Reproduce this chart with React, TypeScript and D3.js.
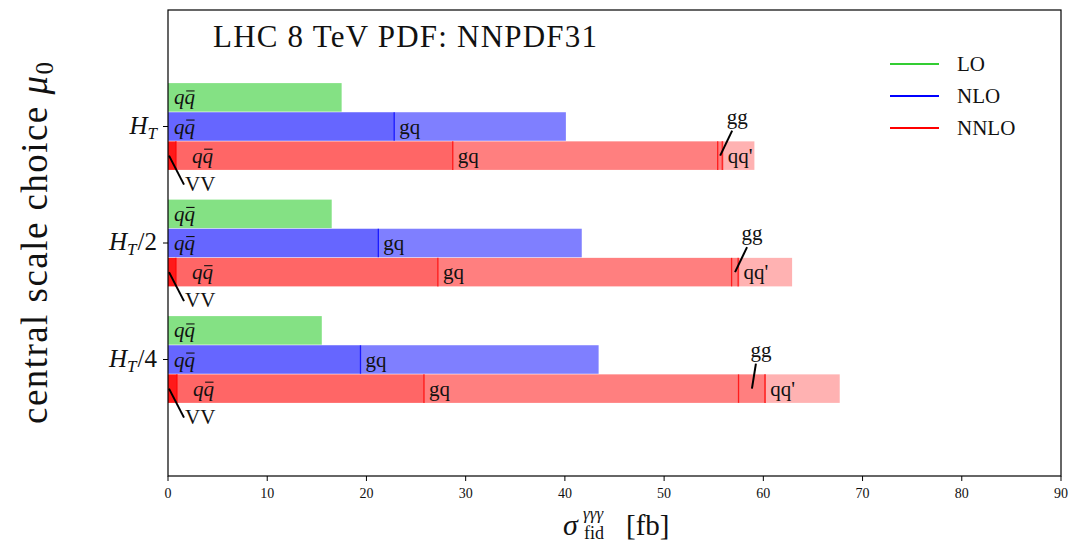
import React from 'react';
import * as d3 from 'd3';

// central scale choices, top to bottom
const scaleChoices = ['H_T', 'H_T/2', 'H_T/4'];
const scalePositions = [2, 1, 0];

// LO: only qqbar channel
const loQqbar = [17.5, 16.5, 15.5];
// NLO channels
const nloQqbar = [22.8, 21.2, 19.4];
const nloGq = [17.3, 20.5, 24.0];
// NNLO channels
const nnloVV = [0.8, 0.8, 0.9];
const nnloQqbar = [27.9, 26.4, 24.9];
const nnloGq = [26.7, 29.6, 31.7];
const nnloGg = [0.5, 0.7, 2.7];
const nnloQqp = [3.2, 5.4, 7.5];

const xTicks = [0, 10, 20, 30, 40, 50, 60, 70, 80, 90];
const orders = ['LO', 'NLO', 'NNLO'];
const orderColors = ['#32cd32', '#0000ff', '#ff0000'];

const W = 1070;
const H = 543;
const margin = { top: 10, right: 9, bottom: 67, left: 168 };
const serif = '"Liberation Serif", "DejaVu Serif", serif';

type Seg = { start: number; end: number; color: string; alpha: number; label: string };

const stack = (vals: number[], color: string, alphas: number[], labels: string[]): Seg[] => {
  let acc = 0;
  return vals.map((v, i) => {
    const s = { start: acc, end: acc + v, color, alpha: alphas[i], label: labels[i] };
    acc += v;
    return s;
  });
};

const QQbar: React.FC<{ x: number; y: number; size: number }> = ({ x, y, size }) => (
  <g>
    <text x={x} y={y} fontFamily={serif} fontStyle="italic" fontSize={size} fill="#111">qq</text>
    <line x1={x + size * 0.58} x2={x + size * 0.98} y1={y - size * 0.64} y2={y - size * 0.64} stroke="#111" strokeWidth={1.1} />
  </g>
);

const ScaleLabel: React.FC<{ label: string; x: number; y: number }> = ({ label, x, y }) => {
  const rest = label.replace('H_T', '');
  return (
    <text x={x} y={y} textAnchor="end" fontFamily={serif} fontSize={25} fill="#111">
      <tspan fontStyle="italic">H</tspan>
      <tspan fontStyle="italic" fontSize={17} dy={5}>T</tspan>
      {rest && <tspan dy={-5} dx={1}>{rest}</tspan>}
    </text>
  );
};

const App: React.FC = () => {
  const x = d3.scaleLinear().domain([0, 90]).range([margin.left, W - margin.right]);
  const y = d3.scaleLinear().domain([-1, 3]).range([H - margin.bottom, margin.top]);
  const barH = Math.abs(y(0.245) - y(0));
  const labelSize = 21;

  return (
    <svg width={W} height={H} style={{ position: 'absolute', left: 0, top: 0, background: '#fff' }}>
      {scaleChoices.map((sc, i) => {
        const yc = scalePositions[i];
        const rows = [
          { yv: yc + 0.25, segs: stack([loQqbar[i]], orderColors[0], [0.6], ['qqbar']) },
          { yv: yc, segs: stack([nloQqbar[i], nloGq[i]], orderColors[1], [0.6, 0.5], ['qqbar', 'gq']) },
          {
            yv: yc - 0.25,
            segs: stack(
              [nnloVV[i], nnloQqbar[i], nnloGq[i], nnloGg[i], nnloQqp[i]],
              orderColors[2],
              [0.9, 0.6, 0.5, 0.5, 0.3],
              ['VV', 'qqbar', 'gq', 'gg', "qq'"]
            ),
          },
        ];
        return (
          <g key={sc}>
            {rows.map((row, r) => {
              const cy = y(row.yv);
              return (
                <g key={r}>
                  {row.segs.map((s, k) => (
                    <g key={k}>
                      <rect
                        x={x(s.start)}
                        y={cy - barH / 2}
                        width={x(s.end) - x(s.start)}
                        height={barH}
                        fill={s.color}
                        fillOpacity={s.alpha}
                      />
                      {k > 0 && (
                        <line x1={x(s.start)} x2={x(s.start)} y1={cy - barH / 2} y2={cy + barH / 2}
                          stroke={s.color} strokeOpacity={Math.min(1, s.alpha + 0.3)} strokeWidth={1.3} />
                      )}
                      {k > 0 && k === row.segs.length - 1 && r === 2 && (
                        <line x1={x(s.start) - 0.6} x2={x(s.start) - 0.6} y1={cy - barH / 2} y2={cy + barH / 2}
                          stroke={s.color} strokeOpacity={0.5} strokeWidth={1.2} />
                      )}
                    </g>
                  ))}
                  {row.segs.map((s, k) => {
                    const base = cy + 7;
                    if (s.label === 'qqbar') {
                      const lx = r === 2 ? x(s.start) + 16 : x(s.start) + 6;
                      return <QQbar key={'l' + k} x={lx} y={base} size={labelSize} />;
                    }
                    if (s.label === 'gq' || s.label === "qq'") {
                      return (
                        <text key={'l' + k} x={x(s.start) + 5} y={base} fontFamily={serif} fontSize={labelSize} fill="#111">
                          {s.label}
                        </text>
                      );
                    }
                    if (s.label === 'gg') {
                      const mx = x((s.start + s.end) / 2);
                      const dx = s.end - s.start > 2 ? 4 : 12;
                      return (
                        <g key={'l' + k}>
                          <line x1={mx} y1={cy} x2={mx + dx} y2={cy - 25} stroke="#000" strokeWidth={2} />
                          <text x={mx + dx + 5} y={cy - 32} textAnchor="middle" fontFamily={serif} fontSize={labelSize} fill="#111">gg</text>
                        </g>
                      );
                    }
                    if (s.label === 'VV') {
                      const sx = x(s.start) + 1;
                      return (
                        <g key={'l' + k}>
                          <line x1={sx} y1={cy} x2={sx + 15} y2={cy + 29} stroke="#000" strokeWidth={2} />
                          <text x={sx + 16} y={cy + 35} fontFamily={serif} fontSize={labelSize} fill="#111">VV</text>
                        </g>
                      );
                    }
                    return null;
                  })}
                </g>
              );
            })}
          </g>
        );
      })}

      {/* frame */}
      <rect x={margin.left} y={margin.top} width={W - margin.right - margin.left} height={H - margin.bottom - margin.top}
        fill="none" stroke="#000" strokeWidth={1.2} />

      {/* x axis */}
      {xTicks.map(t => (
        <g key={t}>
          <line x1={x(t)} x2={x(t)} y1={y(-1)} y2={y(-1) + 5} stroke="#000" strokeWidth={1} />
          <text x={x(t)} y={y(-1) + 22} textAnchor="middle" fontFamily={serif} fontSize={14} fill="#111">{t}</text>
        </g>
      ))}
      <text x={563} y={535} fontFamily={serif} fontStyle="italic" fontSize={30} fill="#111">σ</text>
      <text x={583} y={519} fontFamily={serif} fontStyle="italic" fontSize={17} fill="#111">γγγ</text>
      <text x={584} y={539} fontFamily={serif} fontSize={18} fill="#111">fid</text>
      <text x={626} y={535} fontFamily={serif} fontSize={29} fill="#111">[fb]</text>

      {/* y axis */}
      {scaleChoices.map((sc, i) => (
        <g key={sc}>
          <line x1={margin.left - 5} x2={margin.left} y1={y(scalePositions[i])} y2={y(scalePositions[i])} stroke="#000" strokeWidth={1} />
          <ScaleLabel label={sc} x={margin.left - 11} y={y(scalePositions[i]) + 7} />
        </g>
      ))}
      <text transform="translate(47,243) rotate(-90)" textAnchor="middle" fontFamily={serif} fontSize={37} fill="#111"
        textLength={362} lengthAdjust="spacing">
        <tspan>central scale choice </tspan>
        <tspan fontStyle="italic">μ</tspan>
        <tspan fontSize={25} dy={6}>0</tspan>
      </text>

      {/* title */}
      <text x={213} y={47} fontFamily={serif} fontSize={31} fill="#111" textLength={384} lengthAdjust="spacing">
        LHC 8 TeV PDF: NNPDF31
      </text>

      {/* legend */}
      {orders.map((o, i) => (
        <g key={o}>
          <line x1={890} x2={939} y1={64 + i * 32} y2={64 + i * 32} stroke={orderColors[i]} strokeWidth={2} />
          <text x={957} y={71 + i * 32} fontFamily={serif} fontSize={21} fill="#111">{o}</text>
        </g>
      ))}
    </svg>
  );
};

export default App;
